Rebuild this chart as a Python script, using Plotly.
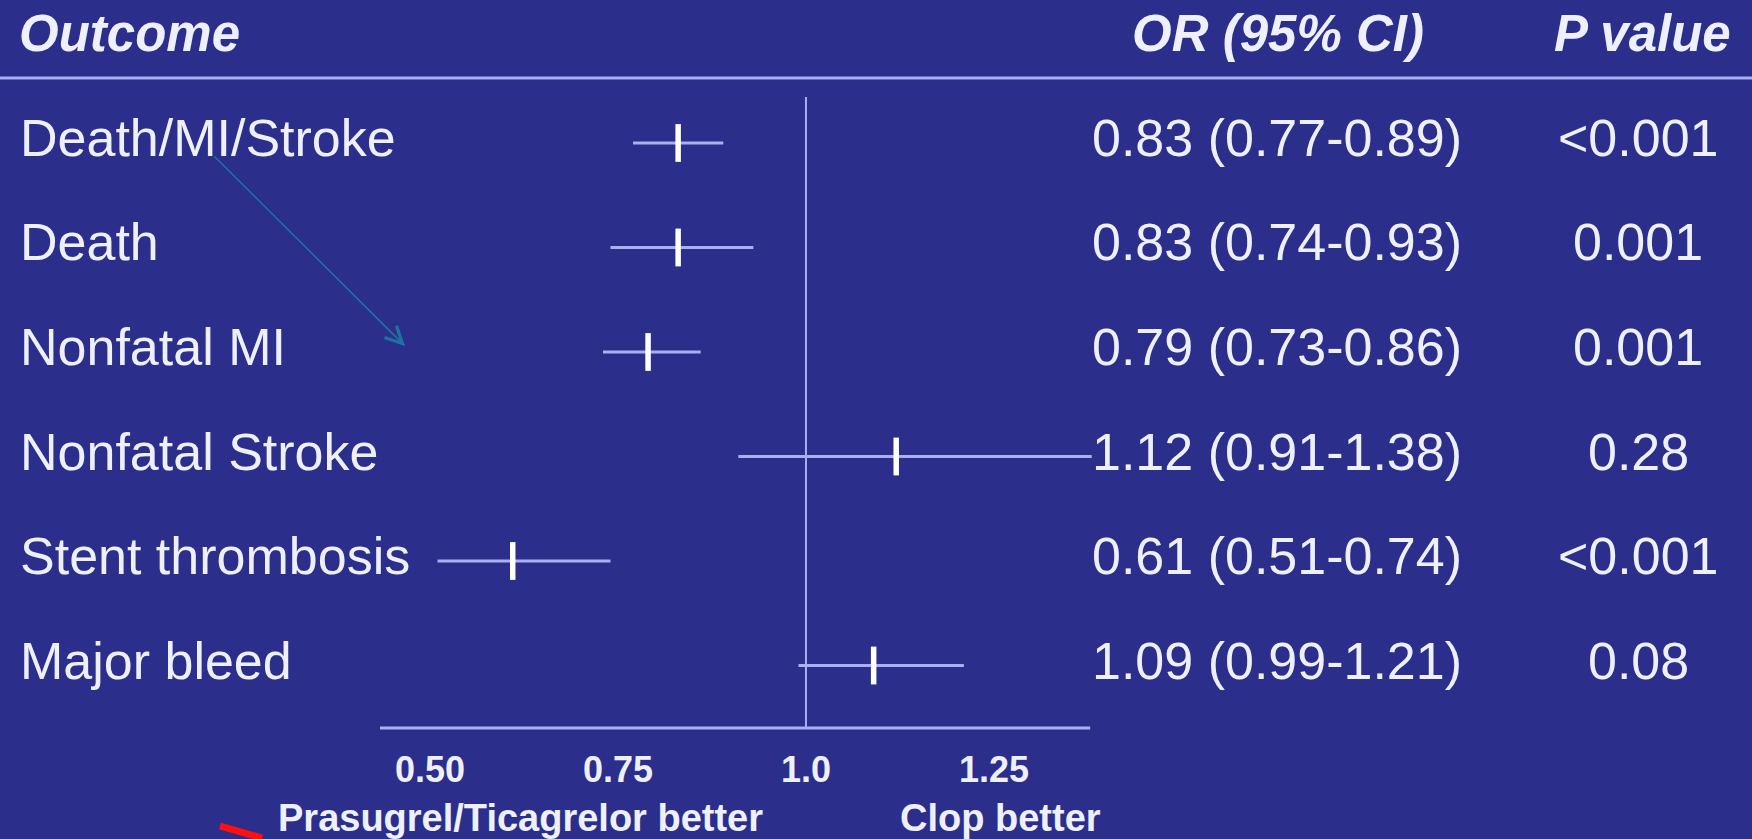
import plotly.graph_objects as go

# Forest plot: Prasugrel/Ticagrelor vs Clopidogrel
outcomes = ["Death/MI/Stroke", "Death", "Nonfatal MI", "Nonfatal Stroke",
            "Stent thrombosis", "Major bleed"]
odds_ratio = [0.83, 0.83, 0.79, 1.12, 0.61, 1.09]
ci_low = [0.77, 0.74, 0.73, 0.91, 0.51, 0.99]
ci_high = [0.89, 0.93, 0.86, 1.38, 0.74, 1.21]
p_values = ["<0.001", "0.001", "0.001", "0.28", "<0.001", "0.08"]
tick_values = [0.50, 0.75, 1.0, 1.25]
tick_labels = ["0.50", "0.75", "1.0", "1.25"]

W, H = 1752, 839
BG = "#2b2e8a"
TEXT = "#eef0ff"
LINE = "#a9b0f0"
FONT = "Liberation Sans, Arial, sans-serif"


def px(x):
    return x / W


def py(y):
    return 1 - y / H


rows = list(range(len(outcomes)))
err_plus = [h - o for h, o in zip(ci_high, odds_ratio)]
err_minus = [o - l for o, l in zip(odds_ratio, ci_low)]

fig = go.Figure()
fig.add_trace(go.Scatter(
    x=odds_ratio, y=rows, mode="markers",
    marker=dict(symbol="line-ns", size=27, color="white",
                line=dict(width=5.5, color="white")),
    error_x=dict(type="data", array=err_plus, arrayminus=err_minus,
                 color=LINE, thickness=3, width=0),
    showlegend=False, hoverinfo="skip", cliponaxis=False,
))

annotations = []
# column headers
hdr_font = dict(family=FONT, size=51, color=TEXT, weight="bold", style="italic")
for text, x, anchor in [("Outcome", 17, "left"), ("OR (95% CI)", 1278, "center"),
                        ("P value", 1642, "center")]:
    annotations.append(dict(text=text, x=px(x), y=py(34), xref="paper", yref="paper",
                            xanchor=anchor, yanchor="middle", showarrow=False,
                            font=hdr_font))

row_font = dict(family=FONT, size=52, color=TEXT)
for i, name in enumerate(outcomes):
    annotations.append(dict(text=name, x=px(18), y=i, xref="paper", yref="y",
                            xanchor="left", yanchor="middle", showarrow=False,
                            yshift=5, font=row_font))
    or_text = f"{odds_ratio[i]:.2f} ({ci_low[i]:.2f}-{ci_high[i]:.2f})"
    annotations.append(dict(text=or_text, x=px(1277), y=i, xref="paper", yref="y",
                            xanchor="center", yanchor="middle", showarrow=False,
                            yshift=5, font=row_font))
    annotations.append(dict(text=p_values[i], x=px(1638), y=i, xref="paper", yref="y",
                            xanchor="center", yanchor="middle", showarrow=False,
                            yshift=5, font=row_font))

# direction labels under the axis
dir_font = dict(family=FONT, size=38, color=TEXT, weight="bold")
for text, x in [("Prasugrel/Ticagrelor better", 520), ("Clop better", 1000)]:
    annotations.append(dict(text=text, x=px(x), y=py(818), xref="paper", yref="paper",
                            xanchor="center", yanchor="middle", showarrow=False,
                            font=dir_font))

# pointer arrow
annotations.append(dict(text="", x=px(405), y=py(346), xref="paper", yref="paper",
                        ax=-192, ay=-191, showarrow=True, arrowhead=5,
                        arrowsize=2.2, arrowwidth=1.5, arrowcolor="#1f73a3"))

AXIS_MIN, AXIS_MAX = 0.4335, 1.378
shapes = [
    # header rule
    dict(type="line", xref="paper", yref="paper", x0=0, x1=1, y0=py(78), y1=py(78),
         line=dict(color=LINE, width=3)),
    # reference line at OR = 1
    dict(type="line", xref="x", yref="y domain", x0=1.0, x1=1.0, y0=0, y1=1,
         line=dict(color=LINE, width=2)),
    # x axis baseline
    dict(type="line", xref="x", yref="y domain", x0=AXIS_MIN, x1=AXIS_MAX, y0=0, y1=0,
         line=dict(color=LINE, width=3)),
    # red pen stroke at the bottom edge
    dict(type="path", xref="paper", yref="paper",
         path=f"M {px(220)},{py(826)} L {px(262)},{py(838)}",
         line=dict(color="#ff1010", width=7)),
]

fig.update_layout(
    width=W, height=H, margin=dict(l=0, r=0, t=0, b=0),
    paper_bgcolor=BG, plot_bgcolor=BG,
    xaxis=dict(domain=[px(360), px(1120)], range=[0.4069, 1.4176],
               showgrid=False, zeroline=False, showline=False, ticks="",
               tickvals=tick_values, ticktext=tick_labels, ticklabelstandoff=17,
               tickfont=dict(family=FONT, size=36, color=TEXT, weight="bold")),
    yaxis=dict(domain=[py(728), py(97)], range=[5.598, -0.440], visible=False),
    annotations=annotations, shapes=shapes, showlegend=False,
)

fig.write_html("out.html")
